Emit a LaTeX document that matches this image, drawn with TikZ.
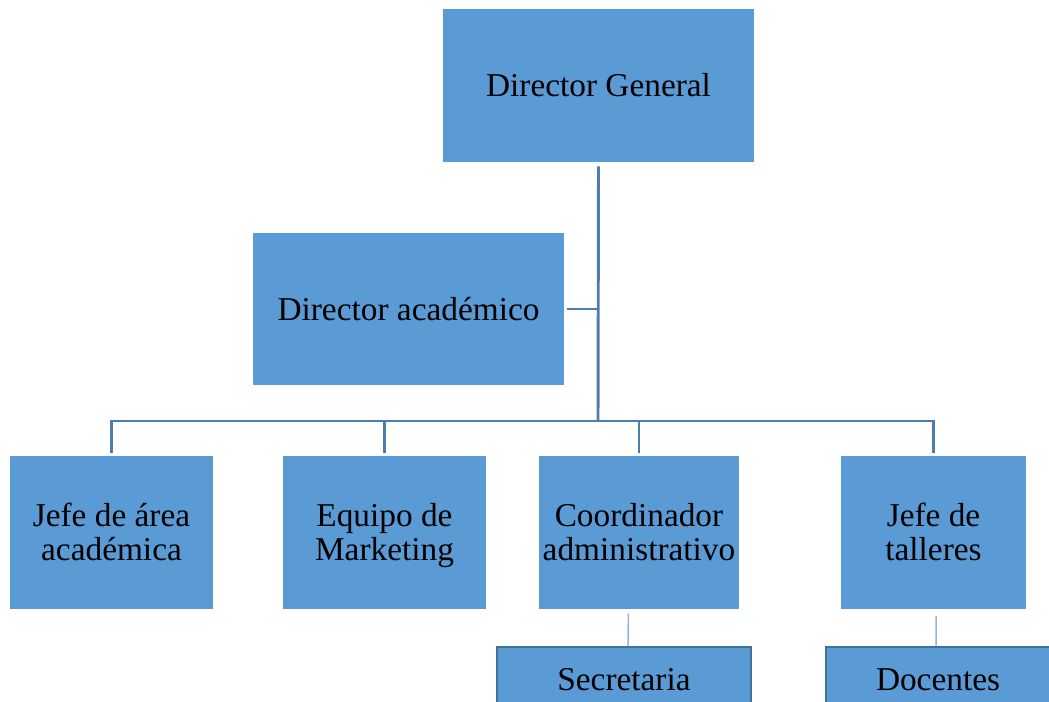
\documentclass[tikz,border=0pt]{standalone}
\usepackage{fontspec}
\setmainfont{Liberation Serif}
\usepackage{xcolor}
\usepackage{tikz}
\usetikzlibrary{positioning,arrows.meta}
\definecolor{boxblue}{HTML}{5B9BD5}
\definecolor{linkblue}{HTML}{4D7DAD}
\definecolor{sublinkblue}{HTML}{8DB6E0}
\definecolor{edgeblue}{HTML}{41719C}
\newcommand{\topstrut}{\rule{0pt}{24pt}}

\begin{document}
\begin{tikzpicture}[x=0.75pt,y=-0.75pt,
 box/.style={fill=boxblue,draw=none,align=center,inner sep=0pt,font=\fontsize{25}{25.5}\selectfont},
 subbox/.style={box,draw=edgeblue,line width=1.6pt},
 link/.style={draw=linkblue,line width=2.2pt},
 sublink/.style={draw=sublinkblue,line width=1.1pt}]
\useasboundingbox(0,0)rectangle(1049,702);
\clip(0,0)rectangle(1049,702);
\node[box,minimum width=0.75*311,minimum height=0.75*153](dg)at(598.5,85.5){Director General};
\node[box,minimum width=0.75*311,minimum height=0.75*152](da)at(408.5,309){Director académico};
\node[box,minimum width=0.75*203,minimum height=0.75*153](jefe)at(111.5,532.5){\topstrut Jefe de área\\académica\strut};
\node[box,minimum width=0.75*203,minimum height=0.75*153](mkt)at(384.5,532.5){\topstrut Equipo de\\Marketing\strut};
\node[box,minimum width=0.75*200,minimum height=0.75*153](coord)at(639,532.5){\topstrut Coordinador\\administrativo\strut};
\node[box,minimum width=0.75*185,minimum height=0.75*153](tall)at(933.5,532.5){\topstrut Jefe de\\talleres\strut};
\node[subbox,minimum width=0.75*254,minimum height=0.75*66](sec)at(624,680){Secretaria};
\node[subbox,minimum width=0.75*224,minimum height=0.75*66](doc)at(938,680){Docentes};
\coordinate(bus)at(598,421);
\draw[link](dg.south)++(0,4)--(bus);
\draw[link]([xshift=2]da.east)--(da.east-|bus);
\foreach \n in {jefe,mkt,coord,tall}
 \draw[link]([yshift=2]\n.north)|-(bus);
\draw[sublink]([xshift=-8,yshift=-3]coord.south)--([xshift=3]sec.north);
\draw[sublink]([xshift=2,yshift=-5]tall.south)--([xshift=-1.5]doc.north);
\end{tikzpicture}
\end{document}
